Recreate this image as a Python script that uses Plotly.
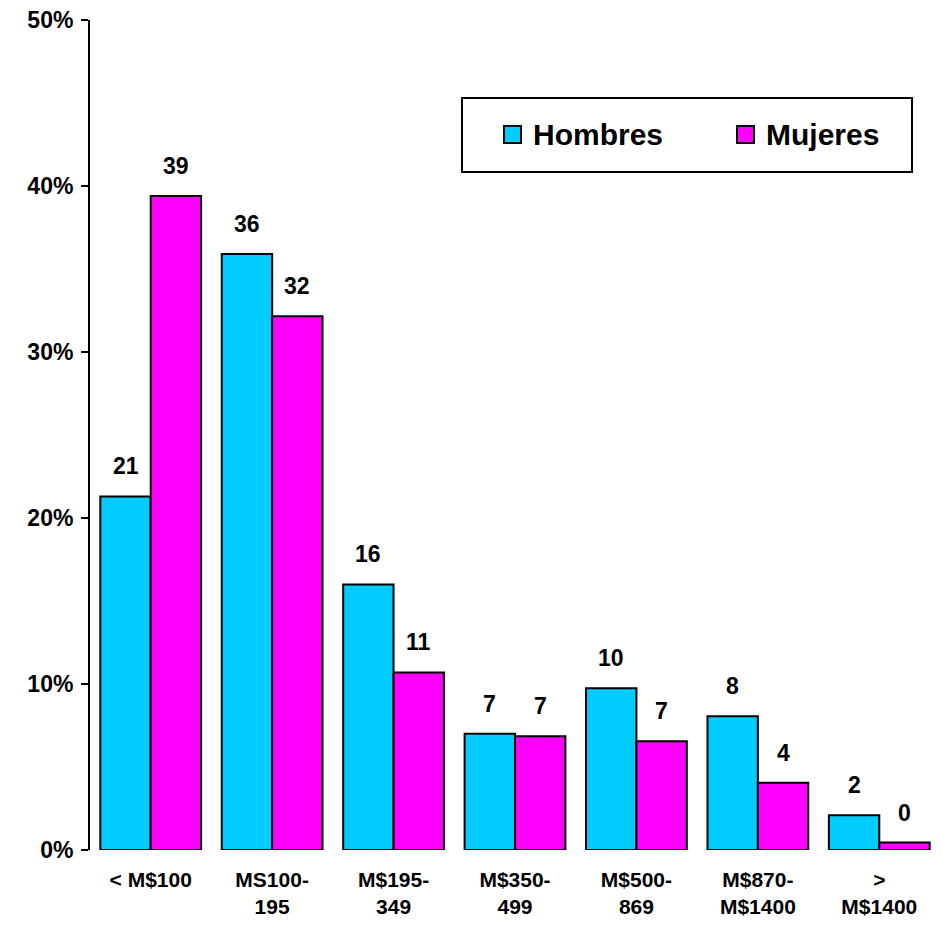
import plotly.graph_objects as go

categories = ["< M$100", "MS100-<br>195", "M$195-<br>349", "M$350-<br>499",
              "M$500-<br>869", "M$870-<br>M$1400", "><br>M$1400"]
series_names = ["Hombres", "Mujeres"]
hombres = [21.3, 35.9, 16.0, 7.0, 9.75, 8.05, 2.1]
mujeres = [39.4, 32.15, 10.7, 6.85, 6.55, 4.05, 0.45]
hombres_labels = ["21", "36", "16", "7", "10", "8", "2"]
mujeres_labels = ["39", "32", "11", "7", "7", "4", "0"]
y_ticks = [0, 10, 20, 30, 40, 50]
y_ticktext = ["0%", "10%", "20%", "30%", "40%", "50%"]
colors = ["#00CCFF", "#FF00FF"]

W, H = 942, 933
plot_left, plot_right, plot_top, plot_bottom = 90, 940, 20, 850  # page px
L = plot_left
R = W - plot_right
T = plot_top
B = H - plot_bottom
pw, ph = W - L - R, H - T - B

def px_x(x):
    return (x - plot_left) / pw

def px_y(y):
    return (plot_bottom - y) / ph

fig = go.Figure()
for name, vals, col in zip(series_names, [hombres, mujeres], colors):
    fig.add_trace(go.Bar(
        name=name, x=list(range(len(categories))), y=vals,
        marker=dict(color=col, line=dict(color="black", width=2)),
        showlegend=False,
    ))

# value labels
bar_px = pw / len(categories) * 0.83 / 2
for labels, vals, sgn in [(hombres_labels, hombres, -1), (mujeres_labels, mujeres, 1)]:
    for i, (lab, v) in enumerate(zip(labels, vals)):
        fig.add_annotation(
            x=i, y=v, xref="x", yref="y", text=lab, showarrow=False,
            xshift=sgn * bar_px / 2, yshift=15, yanchor="bottom",
            font=dict(family="Liberation Sans, Arial", size=23, color="black", weight="bold"),
        )

# manual legend
fig.add_shape(type="rect", xref="paper", yref="paper",
              x0=px_x(462), x1=px_x(912), y0=px_y(172), y1=px_y(98),
              line=dict(color="black", width=2), fillcolor="white", layer="above")
for name, col, sx, tx in zip(series_names, colors, [504, 737], [531, 764]):
    fig.add_shape(type="rect", xref="paper", yref="paper",
                  x0=px_x(sx), x1=px_x(sx + 17), y0=px_y(143), y1=px_y(126),
                  line=dict(color="black", width=2), fillcolor=col, layer="above")
    fig.add_annotation(x=px_x(tx), y=px_y(135), xref="paper", yref="paper",
                       text=name, showarrow=False, xanchor="left", yanchor="middle",
                       font=dict(family="Liberation Sans, Arial", size=30, color="black", weight="bold"))

fig.update_layout(
    width=W, height=H,
    margin=dict(l=L, r=R, t=T, b=B, pad=0, autoexpand=False),
    paper_bgcolor="white", plot_bgcolor="white",
    barmode="group", bargap=0.17, bargroupgap=0,
    xaxis=dict(
        tickmode="array", tickvals=list(range(len(categories))), ticktext=categories,
        range=[-0.5, len(categories) - 0.5], automargin=False,
        showline=False, showgrid=False, zeroline=False, ticks="",
        ticklabelstandoff=15,
        tickfont=dict(family="Liberation Sans, Arial", size=21,
                      color="black", weight="bold"),
    ),
    yaxis=dict(
        range=[0, 50], tickmode="array", tickvals=y_ticks, ticktext=y_ticktext,
        showline=True, linecolor="black", linewidth=2, automargin=False,
        ticks="outside", ticklen=7, tickwidth=2, tickcolor="black",
        showgrid=False, zeroline=False, ticklabelstandoff=3,
        ticklabeloverflow="allow",
        tickfont=dict(family="Liberation Sans, Arial", size=23, color="black", weight="bold"),
    ),
)

fig.write_html("out.html", config={"displayModeBar": False},
               post_script="document.body.style.margin='0';document.body.style.overflow='hidden';")
